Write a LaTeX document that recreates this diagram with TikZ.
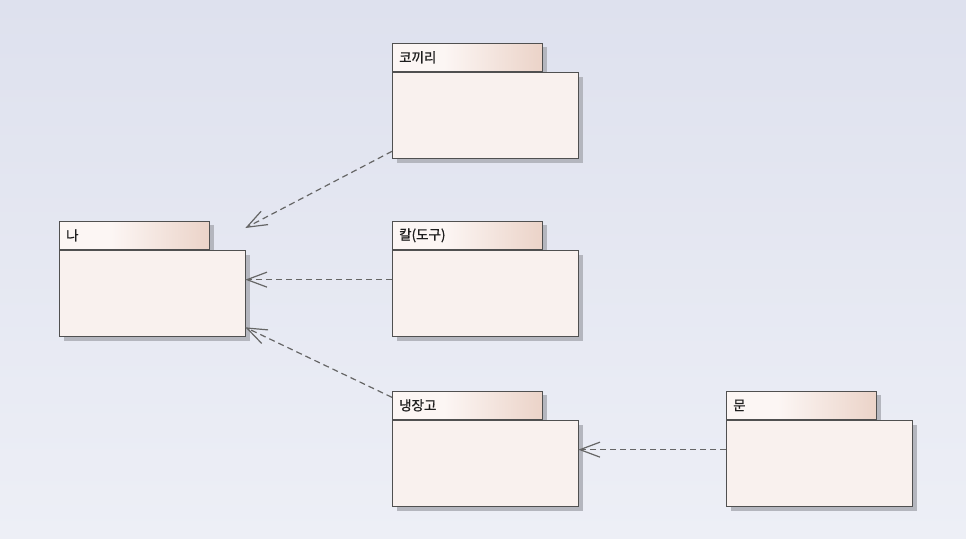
\documentclass[tikz,border=0pt]{standalone}
\usepackage{fontspec}
\newfontfamily\krfont[FakeBold=1]{Noto Sans CJK KR}
\usetikzlibrary{arrows.meta,shadows}
\definecolor{bgtop}{HTML}{DEE1EE}
\definecolor{bgbot}{HTML}{EDEFF6}
\definecolor{pkgfill}{HTML}{F9F1EE}
\definecolor{tabl}{HTML}{FCF6F4}
\definecolor{tabr}{HTML}{EBD3C8}
\definecolor{edge}{HTML}{505050}
\definecolor{dep}{HTML}{666666}
\definecolor{shade}{HTML}{B4B6BE}
\definecolor{label}{HTML}{1E1E1E}
% tab gradient: pale on the left third, warming towards the right edge
\pgfdeclarehorizontalshading{tabshade}{100bp}{color(0bp)=(tabl); color(25bp)=(tabl); color(42bp)=(tabl); color(75bp)=(tabr); color(100bp)=(tabr)}
\tikzset{
  pkgshadow/.style={drop shadow={shadow xshift=4pt, shadow yshift=-4pt, fill=shade, opacity=1}},
  pkgbody/.style={draw=edge, line width=1.3pt, fill=pkgfill, anchor=north west,
    minimum width=186pt, minimum height=86pt, inner sep=0pt, pkgshadow},
  pkgtab/.style={draw=edge, line width=1.3pt, shading=tabshade, anchor=south west,
    minimum width=150pt, minimum height=28pt, text width=137pt, inner xsep=6.5pt, inner ysep=0pt,
    align=left, font=\krfont\fontsize{13.5pt}{15pt}\selectfont, text=label, pkgshadow},
  depends/.style={draw=dep, line width=1.2pt, dash pattern=on 6pt off 4pt,
    -{Straight Barb[length=20pt, width=15pt, line width=1.2pt]}},
}
\begin{document}
\begin{tikzpicture}[x=1pt, y=-1pt]
  \useasboundingbox (0,0) rectangle (966,538);
  \fill[top color=bgtop, bottom color=bgbot] (0,0) rectangle (966,538);

  % packages: tab on top of body
  \node[pkgtab]  (kk-tab)  at (392,72)  {코끼리};
  \node[pkgbody] (kk)      at (392,72)  {};
  \node[pkgtab]  (na-tab)  at (59,250)  {나};
  \node[pkgbody] (na)      at (59,250)  {};
  \node[pkgtab]  (kal-tab) at (392,250) {칼(도구)};
  \node[pkgbody] (kal)     at (392,250) {};
  \node[pkgtab]  (ng-tab)  at (392,420) {냉장고};
  \node[pkgbody] (ng)      at (392,420) {};
  \node[pkgtab]  (mun-tab) at (726,420) {문};
  \node[pkgbody] (mun)     at (726,420) {};

  % dependencies
  \draw[depends] ([yshift=8pt]kk.south west) -- ([xshift=-1pt, yshift=22pt]na.north east);
  \draw[depends] ([yshift=14pt]kal.west) -- ([xshift=-1pt, yshift=14pt]na.east);
  \draw[depends] ([yshift=8pt]ng-tab.west) -- ([xshift=-1pt, yshift=10pt]na.south east);
  \draw[depends] ([yshift=14pt]mun.west) -- ([xshift=-1pt, yshift=14pt]ng.east);
\end{tikzpicture}
\end{document}
